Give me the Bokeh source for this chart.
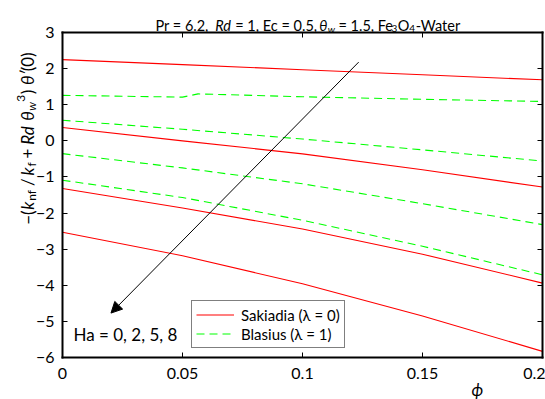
import math
from bokeh.plotting import figure
from bokeh.models import (Range1d, LinearAxis, FixedTicker, Label, Arrow,
                          NormalHead, Legend, LegendItem)
from bokeh.embed import file_html
from bokeh.resources import INLINE

# ---------------- data ----------------
phi = [0.0, 0.05, 0.1, 0.15, 0.2]
# Sakiadis (lambda = 0), Ha = 0, 2, 5, 8
sak_ha0 = [2.25, 2.11, 1.97, 1.83, 1.69]
sak_ha2 = [0.37, 0.00, -0.36, -0.80, -1.28]
sak_ha5 = [-1.32, -1.86, -2.44, -3.14, -3.94]
sak_ha8 = [-2.53, -3.18, -3.96, -4.85, -5.83]
# Blasius (lambda = 1), Ha = 0, 2, 5, 8
phi_b0 = [0.0, 0.05, 0.0565, 0.1, 0.15, 0.2]
bla_ha0 = [1.26, 1.21, 1.30, 1.22, 1.15, 1.09]
bla_ha2 = [0.57, 0.32, 0.05, -0.25, -0.56]
bla_ha5 = [-0.355, -0.75, -1.19, -1.74, -2.32]
bla_ha8 = [-1.09, -1.57, -2.20, -2.92, -3.71]

x_ticks = [0.0, 0.05, 0.1, 0.15, 0.2]
x_tick_labels = ["0", "0.05", "0.1", "0.15", "0.2"]
y_ticks = [-6, -5, -4, -3, -2, -1, 0, 1, 2, 3]
y_tick_labels = ["\u22126", "\u22125", "\u22124", "\u22123", "\u22122", "\u22121", "0", "1", "2", "3"]

legend_labels = ["Sakiadia (\u03bb = 0)", "Blasius (\u03bb = 1)"]
annot_text = "Ha = 0, 2, 5, 8"

X0, X1 = 0.0, 0.2
Y0, Y1 = -6.0, 3.0

RED = "#ff0000"
GREEN = "#00ff00"
FONT = "Lato"

# ---------------- geometry (canvas pixels) ----------------
W, H = 545, 399
BL, BR, BT, BB = 62, 542, 32, 357   # plot box edges in pixels

def px2x(px):
    return X0 + (px - BL) / (BR - BL) * (X1 - X0)
def py2y(py):
    return Y1 - (py - BT) / (BB - BT) * (Y1 - Y0)

p = figure(width=W, height=H,
           x_range=Range1d(px2x(0), px2x(W)), y_range=Range1d(py2y(H), py2y(0)),
           x_axis_type=None, y_axis_type=None, title=None,
           output_backend="svg", toolbar_location=None,
           min_border_left=0, min_border_right=0, min_border_top=0, min_border_bottom=0)
p.outline_line_color = None
p.background_fill_color = "white"
p.border_fill_color = "white"

def style_axis(ax, show_labels, standoff=8):
    ax.axis_line_width = 2
    ax.axis_line_color = "black"
    ax.axis_line_cap = "square"
    ax.major_tick_in = 5
    ax.major_tick_out = 0
    ax.major_tick_line_width = 1
    ax.minor_tick_line_color = None
    ax.major_label_text_font = FONT
    ax.major_label_text_font_size = "16px"
    ax.major_label_text_color = "black"
    ax.major_label_standoff = standoff if show_labels else 0

xb = LinearAxis(ticker=FixedTicker(ticks=x_ticks), fixed_location=Y0, bounds=(X0, X1),
                major_label_overrides=dict(zip(x_ticks, x_tick_labels)))
style_axis(xb, True, 10)
xt = LinearAxis(ticker=FixedTicker(ticks=x_ticks), fixed_location=Y1, bounds=(X0, X1),
                major_label_overrides={t: "" for t in x_ticks})
style_axis(xt, False)
yl = LinearAxis(ticker=FixedTicker(ticks=y_ticks), fixed_location=X0, bounds=(Y0, Y1),
                major_label_overrides=dict(zip(y_ticks, y_tick_labels)))
style_axis(yl, True, 8)
yr = LinearAxis(ticker=FixedTicker(ticks=y_ticks), fixed_location=X1, bounds=(Y0, Y1),
                major_label_overrides={t: "" for t in y_ticks})
style_axis(yr, False)
p.add_layout(xb, "below")
p.add_layout(xt, "above")
p.add_layout(yl, "left")
p.add_layout(yr, "right")

# ---------------- curves ----------------
r_sak = None
for ys in [sak_ha0, sak_ha2, sak_ha5, sak_ha8]:
    r = p.line(phi, ys, line_color=RED, line_width=1.1)
    if r_sak is None:
        r_sak = r
r_bla = p.line(phi_b0, bla_ha0, line_color=GREEN, line_width=1.1, line_dash="8 5")
for ys in [bla_ha2, bla_ha5, bla_ha8]:
    p.line(phi, ys, line_color=GREEN, line_width=1.1, line_dash="8 5")

# ---------------- legend ----------------
leg = Legend(items=[LegendItem(label=legend_labels[0], renderers=[r_sak]),
                    LegendItem(label=legend_labels[1], renderers=[r_bla])],
             location=(191, H - 348), orientation="vertical",
             label_text_font=FONT, label_text_font_size="15px",
             label_text_color="black",
             glyph_width=38, glyph_height=19, label_height=19, label_standoff=7,
             padding=4, spacing=0, margin=0,
             border_line_color="black", border_line_width=1,
             background_fill_color="white", background_fill_alpha=1.0)
p.add_layout(leg, "center")

# ---------------- arrow + annotation ----------------
arrow_start = (0.1234, 2.18)
arrow_end = (0.0202, -4.77)
p.add_layout(Arrow(end=NormalHead(size=11, fill_color="black", line_color="black"),
                   x_start=arrow_start[0], y_start=arrow_start[1],
                   x_end=arrow_end[0], y_end=arrow_end[1],
                   line_color="black", line_width=1))

def lab(text, px, py, size, style="normal", angle=0.0):
    p.add_layout(Label(x=px2x(px), y=py2y(py), text=text, text_font=FONT,
                       text_font_size=f"{size}px", text_font_style=style,
                       text_color="black", angle=angle, angle_units="rad",
                       text_align="left", text_baseline="alphabetic"))

lab(annot_text, 73, 334, 17)
lab("\u03d5", 471, 389, 17, "italic")

# approximate advance widths (em) used to flow mixed-style text pieces
EM = {' ': 0.193, ',': 0.235, '.': 0.235, '=': 0.58, 'P': 0.6, 'r': 0.37, 'E': 0.55,
      'c': 0.45, 'F': 0.53, 'e': 0.5, 'O': 0.76, '-': 0.35, 'W': 0.98, 'a': 0.48,
      't': 0.34, 'R': 0.61, 'd': 0.565, '\u03b8': 0.56, 'w': 0.76, 'k': 0.5,
      'n': 0.565, 'f': 0.33, '/': 0.38, '+': 0.58, '(': 0.3, ')': 0.3,
      '\u2212': 0.58, '\u2032': 0.25}
def tw(text, size):
    return sum(EM.get(ch, 0.58) for ch in text) * size

# title: (text, size, style, baseline shift, gap after)
title_parts = [
    ("Pr = 6.2,", 14.5, "normal", 0, 8),
    ("Rd", 14.5, "italic", 0, 3),
    ("= 1, Ec = 0.5,", 14.5, "normal", 0, 6),
    ("\u03b8", 14.5, "italic", 0, 0.5),
    ("w", 10, "italic", 3, 3),
    ("= 1.5, Fe", 14.5, "normal", 0, 0.5),
    ("3", 10, "normal", 3, 0.5),
    ("O", 14.5, "normal", 0, 0.5),
    ("4", 10, "normal", 3, 0.5),
    ("-Water", 14.5, "normal", 0, 0),
]
cx = 155
for t, s, st, dy, g in title_parts:
    lab(t, cx, 25 + dy, s, st)
    cx += tw(t, s) + g

# y-axis label, rotated: (text, size, style, baseline shift, gap after)
A = math.pi / 2
YL_BASE = 27
ylabel_parts = [
    ("\u2212(", 17, "normal", 0, 0),
    ("k", 17, "italic", 0, 0.5),
    ("nf", 12, "normal", 4, 4),
    ("/", 17, "normal", 0, 4),
    ("k", 17, "italic", 0, 0.5),
    ("f", 12, "normal", 4, 4),
    ("+", 17, "normal", 0, 4),
    ("Rd", 17, "italic", 0, 4),
    ("\u03b8", 17, "italic", 0, 0.5),
    ("w", 12, "italic", 4, 0),
    ("3", 12, "normal", -7, 0.5),
    (")", 17, "normal", 0, 4),
    ("\u03b8\u2032", 17, "italic", 0, 0),
    ("(0)", 17, "normal", 0, 0),
]
total = sum(tw(t, s) + g for t, s, st, dy, g in ylabel_parts)
cy = 137.5 + total / 2
for t, s, st, dy, g in ylabel_parts:
    lab(t, YL_BASE + dy, cy, s, st, A)
    cy -= tw(t, s) + g

open("out.html", "w").write(file_html(p, INLINE))
